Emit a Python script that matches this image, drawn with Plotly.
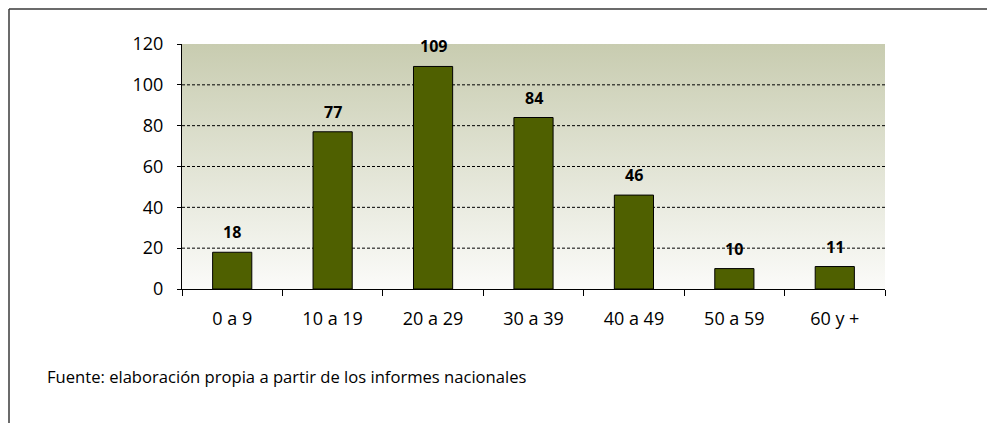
import base64
import plotly.graph_objects as go

categories = ["0 a 9", "10 a 19", "20 a 29", "30 a 39", "40 a 49", "50 a 59", "60 y +"]
values = [18, 77, 109, 84, 46, 10, 11]
y_ticks = [0, 20, 40, 60, 80, 100, 120]
footnote = "Fuente: elaboración propia a partir de los informes nacionales"

FONT = "Open Sans"
W, H = 995, 423
OFF = 8  # page offset of the figure inside the browser window
ML, MT = 182 - OFF, 44 - OFF
MR = OFF + W - 885
MB = OFF + H - 289
PW, PH = W - ML - MR, H - MT - MB

def px_to_paper_x(px):
    return (px - OFF - ML) / PW

def px_to_paper_y(py):
    return (H - MB - (py - OFF)) / PH

svg = ('<svg xmlns="http://www.w3.org/2000/svg" width="10" height="100" preserveAspectRatio="none">'
       '<defs><linearGradient id="g" x1="0" y1="0" x2="0" y2="1">'
       '<stop offset="0" stop-color="#c8ccb0"/><stop offset="1" stop-color="#fbfbf9"/>'
       '</linearGradient></defs><rect width="10" height="100" fill="url(#g)"/></svg>')
svg_uri = "data:image/svg+xml;base64," + base64.b64encode(svg.encode()).decode()

fig = go.Figure()
fig.add_trace(go.Bar(
    x=categories, y=values,
    marker=dict(color="#4f6000", line=dict(color="#000000", width=1)),
    hoverinfo="x+y",
))

for c, v in zip(categories, values):
    fig.add_annotation(x=c, y=v, xref="x", yref="y", text=f"<b>{v}</b>", showarrow=False,
                       yshift=20, yanchor="middle",
                       font=dict(family=FONT, size=16, color="#000000"))

shapes = []
for t in y_ticks[1:-1]:
    shapes.append(dict(type="line", xref="paper", yref="y", x0=0, x1=1, y0=t, y1=t,
                       layer="below", line=dict(color="#000000", width=1, dash="3px,2px")))
# outer frame (left and top borders)
x_l, y_t = px_to_paper_x(9), px_to_paper_y(9)
x_r, y_b = px_to_paper_x(1010), px_to_paper_y(440)
shapes.append(dict(type="line", xref="paper", yref="paper", x0=x_l, x1=x_l, y0=y_b, y1=y_t,
                   line=dict(color="#3a3a3a", width=1.5)))
shapes.append(dict(type="line", xref="paper", yref="paper", x0=x_l, x1=x_r, y0=y_t, y1=y_t,
                   line=dict(color="#3a3a3a", width=1.5)))

fig.add_annotation(xref="paper", yref="paper", x=px_to_paper_x(45), y=px_to_paper_y(377),
                   xanchor="left", yanchor="middle", showarrow=False, text=footnote,
                   font=dict(family=FONT, size=16.6, color="#000000"))

fig.update_layout(
    width=W, height=H,
    margin=dict(l=ML, r=MR, t=MT, b=MB),
    paper_bgcolor="#ffffff",
    plot_bgcolor="rgba(0,0,0,0)",
    bargap=0.61,
    showlegend=False,
    shapes=shapes,
    images=[dict(source=svg_uri, xref="paper", yref="paper", x=0, y=1,
                 sizex=1, sizey=1, sizing="stretch", layer="below",
                 xanchor="left", yanchor="top")],
    font=dict(family=FONT, size=18, color="#000000"),
)
fig.update_xaxes(
    showline=True, linecolor="#000000", linewidth=1,
    ticks="outside", tickson="boundaries", ticklen=6, tickcolor="#000000",
    showgrid=False, tickfont=dict(family=FONT, size=18), ticklabelstandoff=13,
)
fig.update_yaxes(
    range=[0, 120], tickvals=y_ticks, showline=True, linecolor="#000000", linewidth=1,
    ticks="outside", ticklen=4, tickcolor="#000000", showgrid=False, zeroline=False,
    tickfont=dict(family=FONT, size=18), ticklabelstandoff=10,
)

fig.write_html("out.html")
